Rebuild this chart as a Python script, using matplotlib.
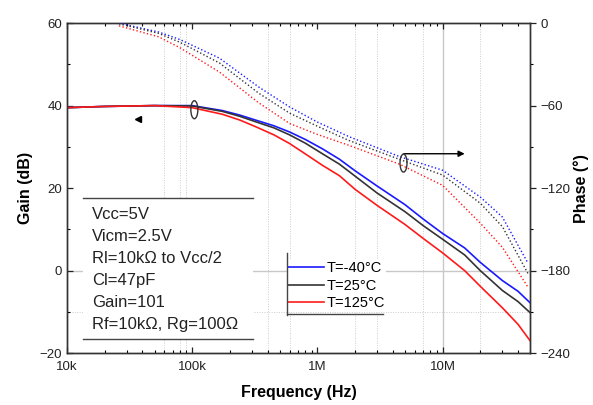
# Gain / phase vs frequency for three temperatures
import matplotlib
matplotlib.use("Agg")
import matplotlib.pyplot as plt
from matplotlib.patches import Ellipse, Rectangle
from matplotlib.lines import Line2D
from matplotlib.transforms import ScaledTranslation
from matplotlib.ticker import MultipleLocator, LogLocator, NullFormatter, FixedLocator, FixedFormatter

plt.rcParams['font.family'] = ['Liberation Sans', 'DejaVu Sans']

# gain data (dB)
freq_gain = [1e4, 2e4, 5e4, 1e5, 1.74e5, 2.4e5, 3.2e5, 4.5e5, 6e5, 8e5, 1.1e6, 1.5e6,
             2e6, 3e6, 5e6, 7e6, 1e7, 1.5e7, 2e7, 3e7, 4e7, 5e7]
gain_m40 = [39.5, 39.8, 40, 40, 38.8, 37.7, 36.5, 35.1, 33.6, 31.8, 29.5, 27,
            24.2, 20.5, 16, 12.5, 9, 5.5, 2, -2.4, -5, -7.8]
gain_25 = [39.5, 39.8, 40, 39.9, 38.6, 37.4, 36.1, 34.6, 32.9, 30.9, 28.3, 25.8,
           22.9, 18.8, 14.3, 10.9, 7.6, 3.8, 0, -4.8, -7.5, -10.2]
gain_125 = [39.5, 39.8, 40, 39.5, 37.9, 36.5, 34.9, 32.9, 30.8, 28.3, 25.5, 23,
            19.7, 15.8, 11.2, 7.8, 4.3, 0, -3.8, -9, -13, -17]

# phase data (deg)
freq_phase = [2.6e4, 5.4e4, 8e4, 1.65e5, 3.4e5, 6e5, 1e6, 1.8e6, 4.5e6,
              1e7, 2e7, 3e7, 4.8e7]
phase_m40 = [0, -6.5, -12, -25.5, -46.5, -61, -72, -82.7, -97, -107, -126.5, -141, -174.5]
phase_25 = [-0.5, -7.5, -14, -29, -51, -65.5, -75, -85.5, -99, -110.5, -131, -148, -182]
phase_125 = [-2, -10, -18, -35.6, -58, -73, -81, -89, -102.5, -118, -145.5, -163, -192]

labels = ["T=-40°C", "T=25°C", "T=125°C"]
colors = ["#1a1aff", "#333333", "#ff1a1a"]

conditions = ["Vcc=5V", "Vicm=2.5V", "Rl=10kΩ to Vcc/2", "Cl=47pF", "Gain=101",
              "Rf=10kΩ, Rg=100Ω"]

fig = plt.figure(figsize=(5.93, 4.05), dpi=100)
ax = fig.add_axes([0.113, 0.128, 0.781, 0.815])
ax2 = ax.twinx()

# faint grid lines
for f in [6e4, 8e4, 9e4, 4e5, 6e5, 2e6, 3e6, 7e6, 2e7]:
    ax.axvline(f, color='#cccccc', lw=0.7, ls=(0, (1, 1.5)), zorder=0)
ax.axvline(1e7, color='#c8c8c8', lw=1.0, zorder=0)
ax.axhline(0, color='#c8c8c8', lw=1.0, zorder=0)
ax.axhline(-10, color='#cccccc', lw=0.7, ls=(0, (1, 1.5)), zorder=0)

gains = [gain_m40, gain_25, gain_125]
phases = [phase_m40, phase_25, phase_125]
handles = []
for g, p, c, lab in zip(gains, phases, colors, labels):
    h, = ax.plot(freq_gain, g, color=c, lw=1.2, label=lab, zorder=3)
    handles.append(h)
    ax2.plot(freq_phase, p, color=c, lw=1.0, ls=(0, (1, 1.6)), zorder=3)

ax.set_xscale('log')
ax.set_xlim(1e4, 5e7)
ax.set_ylim(-20, 60)
ax2.set_ylim(-240, 0)

ax.xaxis.set_major_locator(FixedLocator([1e4, 1e5, 1e6, 1e7]))
ax.xaxis.set_major_formatter(FixedFormatter(["10k", "100k", "1M", "10M"]))
ax.xaxis.set_minor_locator(LogLocator(base=10, subs=range(2, 10), numticks=20))
ax.xaxis.set_minor_formatter(NullFormatter())
ax.yaxis.set_major_locator(MultipleLocator(20))
ax.yaxis.set_minor_locator(MultipleLocator(10))
ax2.yaxis.set_major_locator(MultipleLocator(60))
ax2.yaxis.set_minor_locator(MultipleLocator(30))

ax.tick_params(axis='both', which='major', direction='in', length=4, width=0.9,
               labelsize=9.5, top=True, colors='#222222')
ax.tick_params(axis='x', which='major', pad=6)
ax.tick_params(axis='both', which='minor', direction='in', length=2.5, width=0.8, top=True)
ax2.tick_params(axis='y', which='major', direction='out', length=4, width=0.9,
                labelsize=9.5, colors='#222222')
ax2.tick_params(axis='y', which='minor', direction='out', length=2.5, width=0.8)

for a in (ax, ax2):
    for s in a.spines.values():
        s.set_color('#333333')
        s.set_linewidth(1.0)

ax.set_xlabel("Frequency (Hz)", fontsize=11.5, fontweight='bold', labelpad=8)
ax.set_ylabel("Gain (dB)", fontsize=11.5, fontweight='bold', labelpad=5)
ax2.set_ylabel("Phase (°)", fontsize=11.5, fontweight='bold', labelpad=2)

# conditions box (top and bottom rule only)
ax.add_patch(Rectangle((0.035, 0.042), 0.367, 0.428, transform=ax.transAxes,
                       facecolor='white', edgecolor='none', zorder=4))
for yy in (0.470, 0.042):
    ax.add_line(Line2D([0.035, 0.402], [yy, yy], transform=ax.transAxes,
                       color='#444444', lw=1.0, zorder=5))
for i, t in enumerate(conditions):
    ax.text(0.054, 0.42 - i * 0.0665, t, transform=ax.transAxes, fontsize=12,
            va='center', ha='left', color='#222222', zorder=6)

# legend (left and bottom rule only)
leg = ax.legend(handles=handles, loc='lower left', bbox_to_anchor=(0.475, 0.125),
                frameon=True, fancybox=False, edgecolor='none', facecolor='white',
                framealpha=1, fontsize=10.5, handlelength=2.45, handletextpad=0.15,
                borderpad=0.1, borderaxespad=0, labelspacing=0.25)
leg.set_zorder(6)
ax.add_line(Line2D([0.475, 0.475], [0.115, 0.303], transform=ax.transAxes,
                   color='#444444', lw=1.0, zorder=7))
ax.add_line(Line2D([0.475, 0.683], [0.12, 0.12], transform=ax.transAxes,
                   color='#444444', lw=1.0, zorder=7))

# curve-group markers
tr1 = fig.dpi_scale_trans + ScaledTranslation(1.04e5, 39, ax.transData)
ax.add_patch(Ellipse((0, 0), 0.07, 0.18, transform=tr1, fill=False,
                     edgecolor='#333333', lw=1.0, zorder=8))
ax.plot([3.7e4], [36.8], marker='<', color='black', markersize=4, zorder=8)
tr2 = fig.dpi_scale_trans + ScaledTranslation(4.87e6, -101.8, ax2.transData)
ax2.add_patch(Ellipse((0, 0), 0.07, 0.18, transform=tr2, fill=False,
                      edgecolor='#333333', lw=1.0, zorder=8))
ax2.annotate("", xy=(1.5e7, -95), xytext=(4.9e6, -95),
             arrowprops=dict(arrowstyle='-|>', color='black', lw=1.0,
                             mutation_scale=9, shrinkA=0, shrinkB=0))

fig.savefig("out.png", dpi=100)
